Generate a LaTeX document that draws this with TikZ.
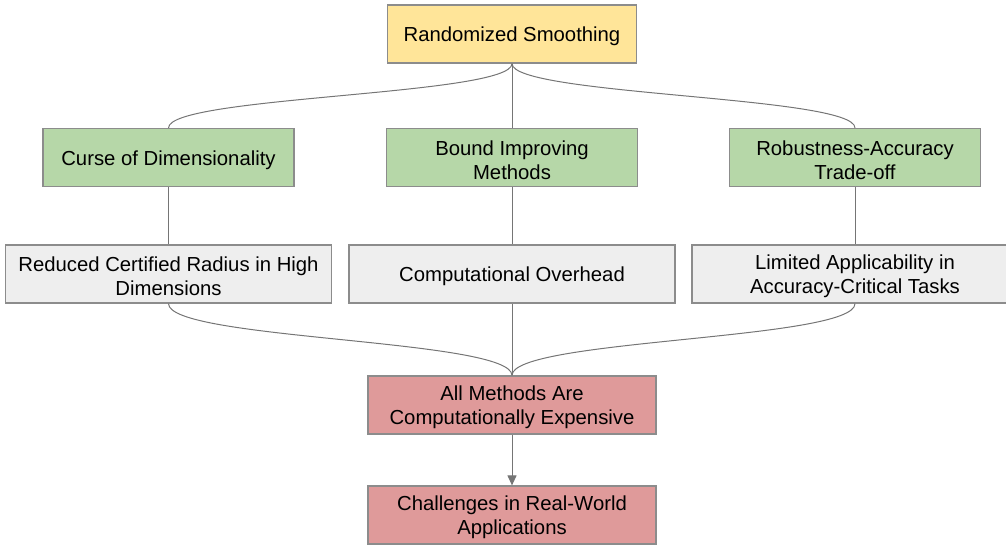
\documentclass[tikz,border=0pt]{standalone}
\usepackage{fontspec}
\setmainfont{Liberation Sans}
\usetikzlibrary{arrows.meta}
\definecolor{rsyellow}{HTML}{FFE599}
\definecolor{rsgreen}{HTML}{B6D7A8}
\definecolor{rsgray}{HTML}{EEEEEE}
\definecolor{rsred}{HTML}{DF9A9A}
\definecolor{rsedge}{HTML}{8C8C8C}
\definecolor{rsline}{HTML}{757575}
\newcommand{\tallstrut}{\rule{0pt}{20pt}}
\tikzset{
  box/.style={draw=rsedge, line width=1.2pt, minimum height=58pt, inner sep=0pt,
    align=center, font=\fontsize{20.3}{24}\selectfont},
  topbox/.style={box, fill=rsyellow, minimum width=249pt},
  methodbox/.style={box, fill=rsgreen, minimum width=251pt},
  issuebox/.style={box, fill=rsgray, minimum width=326pt},
  resultbox/.style={box, fill=rsred, minimum width=288pt},
  link/.style={draw=rsline, line width=1pt}
}

\begin{document}
\begin{tikzpicture}[x=1pt,y=-1pt]
\useasboundingbox (0,0) rectangle (1006,544);

% root
\node[topbox] (smooth) at (512,34) {\tallstrut Randomized Smoothing};

% methods
\node[methodbox] (curse) at (168.5,157.5) {\tallstrut Curse of Dimensionality};
\node[methodbox] (bound) at (512,157.5) {\tallstrut Bound Improving\\Methods};
\node[methodbox] (tradeoff) at (855,157.5) {\tallstrut Robustness-Accuracy\\Trade-off};

% issues
\node[issuebox] (radius) at (168.5,274) {\tallstrut Reduced Certified Radius in High\\Dimensions};
\node[issuebox] (overhead) at (512,274) {\tallstrut Computational Overhead};
\node[issuebox] (limited) at (855,274) {\tallstrut Limited Applicability in\\Accuracy-Critical Tasks};

% results
\node[resultbox] (costly) at (512,405) {\tallstrut All Methods Are\\Computationally Expensive};
\node[resultbox] (realworld) at (512,515) {\tallstrut Challenges in Real-World\\Applications};

\draw[link] (smooth.south) .. controls +(0,32) and +(0,-32) .. (curse.north);
\draw[link] (smooth.south) -- (bound.north);
\draw[link] (smooth.south) .. controls +(0,32) and +(0,-32) .. (tradeoff.north);

\foreach \a/\b in {curse/radius, bound/overhead, tradeoff/limited}
    \draw[link] (\a.south) -- (\b.north);

\draw[link] (radius.south) .. controls +(0,36.5) and +(0,-36.5) .. (costly.north);
\draw[link] (overhead.south) -- (costly.north);
\draw[link] (limited.south) .. controls +(0,36.5) and +(0,-36.5) .. (costly.north);

\draw[link,-{Triangle[width=9pt,length=10pt]}] (costly.south) -- (realworld.north);

\end{tikzpicture}
\end{document}
